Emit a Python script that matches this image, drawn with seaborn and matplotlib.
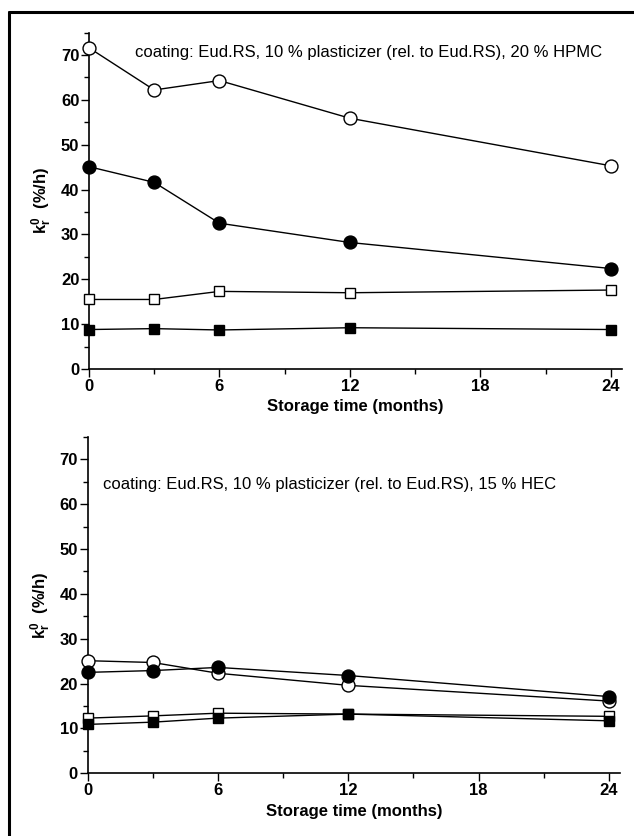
import matplotlib
matplotlib.use("Agg")
import matplotlib.pyplot as plt
import seaborn as sns
import pandas as pd
from matplotlib.lines import Line2D
from matplotlib.ticker import MultipleLocator

sns.set_theme(style="white")
plt.rcParams['font.family'] = ['Liberation Sans', 'DejaVu Sans']
plt.rcParams['mathtext.fontset'] = 'custom'
plt.rcParams['mathtext.rm'] = 'Liberation Sans:bold'
plt.rcParams['mathtext.it'] = 'Liberation Sans:bold'
plt.rcParams['mathtext.bf'] = 'Liberation Sans:bold'

months = [0, 3, 6, 12, 24]

# top panel: 20 % HPMC
top_open_circle = [71.6, 62.2, 64.3, 55.9, 45.3]
top_filled_circle = [45.1, 41.6, 32.5, 28.2, 22.4]
top_open_square = [15.5, 15.5, 17.3, 17.0, 17.6]
top_filled_square = [8.8, 9.0, 8.7, 9.2, 8.8]

# bottom panel: 15 % HEC
bot_open_circle = [25.1, 24.7, 22.3, 19.6, 16.1]
bot_filled_circle = [22.5, 22.9, 23.6, 21.8, 17.1]
bot_open_square = [12.3, 12.8, 13.4, 13.2, 12.7]
bot_filled_square = [10.9, 11.4, 12.3, 13.2, 11.7]

x_ticks = [0, 6, 12, 18, 24]
y_ticks = [0, 10, 20, 30, 40, 50, 60, 70]
top_title = "coating: Eud.RS, 10 % plasticizer (rel. to Eud.RS), 20 % HPMC"
bot_title = "coating: Eud.RS, 10 % plasticizer (rel. to Eud.RS), 15 % HEC"
xlabel = "Storage time (months)"
ylabel = r"$\mathrm{k_r^0}$  (%/h)"

W, H = 634, 836
fig = plt.figure(figsize=(W / 100, H / 100), dpi=100)

def make_ax(left_px, y0_px, xpx_per, ypx_per):
    left = left_px / W
    width = 24.5 * xpx_per / W
    bottom = 1 - y0_px / H
    height = 75 * ypx_per / H
    return fig.add_axes([left, bottom, width, height])

ax1 = make_ax(89, 369, 21.74, 4.486)
ax2 = make_ax(87.7, 773.3, 21.72, 4.486)

styles = [
    ("o", "white", 9.3),
    ("o", "black", 9.3),
    ("s", "white", 7.5),
    ("s", "black", 7.5),
]

def draw(ax, series, title, tx, ty):
    for vals, (mk, fc, ms) in zip(series, styles):
        df = pd.DataFrame({"t": months, "k": vals})
        sns.lineplot(data=df, x="t", y="k", ax=ax, color="black", linewidth=1.0,
                     marker=mk, markerfacecolor=fc, markeredgecolor="black",
                     markeredgewidth=1.0, markersize=ms,
                     clip_on=False, zorder=3)
    ax.set_xlim(0, 24.5)
    ax.set_ylim(0, 75)
    ax.spines['top'].set_visible(False)
    ax.spines['right'].set_visible(False)
    for s in ['left', 'bottom']:
        ax.spines[s].set_color('black')
        ax.spines[s].set_linewidth(1.2)
    ax.set_xticks(x_ticks)
    ax.set_yticks(y_ticks)
    ax.xaxis.set_minor_locator(MultipleLocator(3))
    ax.yaxis.set_minor_locator(MultipleLocator(5))
    ax.tick_params(which='major', direction='out', length=6, width=1.0, color='black',
                   labelsize=12, pad=1, bottom=True, left=True)
    ax.tick_params(which='minor', direction='out', length=3.5, width=1.0, color='black',
                   bottom=True, left=True)
    for lab in ax.get_xticklabels() + ax.get_yticklabels():
        lab.set_fontweight('bold')
        lab.set_color('black')
    ax.set_xlabel(xlabel, fontsize=12, fontweight='bold', color='black', labelpad=4)
    ax.set_ylabel(ylabel, fontsize=12, fontweight='bold', color='black', labelpad=5)
    ax.set_facecolor('white')
    fig.text(tx / W, 1 - ty / H, title, fontsize=12, color='black', va='center', ha='left')

draw(ax1, [top_open_circle, top_filled_circle, top_open_square, top_filled_square],
     top_title, 135, 52)
draw(ax2, [bot_open_circle, bot_filled_circle, bot_open_square, bot_filled_square],
     bot_title, 103, 484)

# frame lines (top and left) around the figure
fig.add_artist(Line2D([9 / W, 1], [1 - 12 / H, 1 - 12 / H], transform=fig.transFigure,
                      color='black', linewidth=2.2))
fig.add_artist(Line2D([9 / W, 9 / W], [0, 1 - 12 / H], transform=fig.transFigure,
                      color='black', linewidth=2.2))

fig.savefig("out.png", dpi=100, facecolor='white')
